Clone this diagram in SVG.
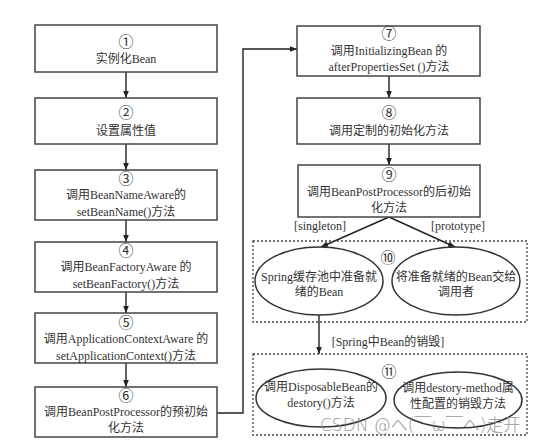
<svg xmlns="http://www.w3.org/2000/svg" width="554" height="448" viewBox="0 0 554 448">
<defs>
<marker id="ah" viewBox="0 0 10 10" refX="10" refY="5" markerWidth="7" markerHeight="7" markerUnits="userSpaceOnUse" orient="auto">
<path d="M0,1 L10,5 L0,9 z" fill="#222"/>
</marker>
<style>
.box{fill:#fff;stroke:#444;stroke-width:1.5}
.ell{fill:#fff;stroke:#333;stroke-width:1.5}
.dot{fill:none;stroke:#444;stroke-width:1.3;stroke-dasharray:2,2}
.ln{fill:none;stroke:#222;stroke-width:1.4}
text{font-family:"Liberation Serif","Noto Sans CJK SC",serif;font-size:12px;fill:#333;text-anchor:middle}
.num{font-size:15px}
.wm{font-family:"DejaVu Sans","Noto Sans CJK SC",sans-serif;font-size:17px;fill:#888;text-anchor:start;font-weight:300;opacity:0.85}
</style>
</defs>
<rect width="554" height="448" fill="#fff"/>
<g id="connectors">
<line class="ln" x1="126" y1="72" x2="126" y2="98" marker-end="url(#ah)"/>
<line class="ln" x1="126" y1="144" x2="126" y2="170" marker-end="url(#ah)"/>
<line class="ln" x1="126" y1="220" x2="126" y2="242" marker-end="url(#ah)"/>
<line class="ln" x1="126" y1="292" x2="126" y2="313" marker-end="url(#ah)"/>
<line class="ln" x1="126" y1="363" x2="126" y2="387" marker-end="url(#ah)"/>
<polyline class="ln" points="217,413 243,413 243,49 297,49" marker-end="url(#ah)"/>
<line class="ln" x1="389" y1="76" x2="389" y2="98" marker-end="url(#ah)"/>
<line class="ln" x1="389" y1="144" x2="389" y2="165" marker-end="url(#ah)"/>
<line class="ln" x1="389" y1="217" x2="321" y2="247" marker-end="url(#ah)"/>
<line class="ln" x1="389" y1="217" x2="455" y2="247" marker-end="url(#ah)"/>
<line class="ln" x1="319" y1="315" x2="319" y2="354" marker-end="url(#ah)"/>
<text x="320" y="230">[singleton]</text>
<text x="458" y="230">[prototype]</text>
<text x="388" y="346">[Spring中Bean的销毁]</text>
</g>
<g id="n1"><rect class="box" x="35" y="25" width="182" height="47"/><text class="num" x="126" y="47">①</text><text x="126" y="63">实例化Bean</text></g>
<g id="n2"><rect class="box" x="35" y="98" width="182" height="46"/><text class="num" x="126" y="118">②</text><text x="126" y="135">设置属性值</text></g>
<g id="n3"><rect class="box" x="35" y="170" width="182" height="50"/><text class="num" x="126" y="184">③</text><text x="126" y="199">调用BeanNameAware的</text><text x="126" y="216">setBeanName()方法</text></g>
<g id="n4"><rect class="box" x="35" y="242" width="182" height="50"/><text class="num" x="126" y="256">④</text><text x="126" y="271">调用BeanFactoryAware 的</text><text x="126" y="288">setBeanFactory()方法</text></g>
<g id="n5"><rect class="box" x="35" y="313" width="182" height="50"/><text class="num" x="126" y="328">⑤</text><text x="126" y="343">调用ApplicationContextAware 的</text><text x="126" y="360">setApplicationContext()方法</text></g>
<g id="n6"><rect class="box" x="35" y="387" width="182" height="50"/><text class="num" x="126" y="401">⑥</text><text x="126" y="416">调用BeanPostProcessor的预初始</text><text x="126" y="432">化方法</text></g>
<g id="n7"><rect class="box" x="297" y="26" width="183" height="50"/><text class="num" x="389" y="39">⑦</text><text x="389" y="55">调用InitializingBean 的</text><text x="389" y="71">afterPropertiesSet ()方法</text></g>
<g id="n8"><rect class="box" x="297" y="98" width="183" height="46"/><text class="num" x="389" y="118">⑧</text><text x="389" y="135">调用定制的初始化方法</text></g>
<g id="n9"><rect class="box" x="298" y="165" width="182" height="52"/><text class="num" x="389" y="180">⑨</text><text x="389" y="196">调用BeanPostProcessor的后初始</text><text x="389" y="212">化方法</text></g>
<g id="n10"><rect class="dot" x="253" y="241" width="274" height="81"/><text class="num" x="388" y="263">⑩</text>
<ellipse class="ell" cx="319" cy="281" rx="64" ry="34"/><text x="319" y="281">Spring缓存池中准备就</text><text x="319" y="296">绪的Bean</text>
<ellipse class="ell" cx="456" cy="281" rx="64" ry="34"/><text x="456" y="281">将准备就绪的Bean交给</text><text x="456" y="296">调用者</text></g>
<g id="n11"><rect class="dot" x="253" y="354" width="274" height="81"/><text class="num" x="389" y="377">⑪</text>
<ellipse class="ell" cx="321" cy="398" rx="65" ry="29"/><text x="321" y="391">调用DisposableBean的</text><text x="321" y="407">destory()方法</text>
<ellipse class="ell" cx="458" cy="400" rx="64" ry="28"/><text x="458" y="392">调用destory-method属</text><text x="458" y="408">性配置的销毁方法</text></g>
<text class="wm" x="320" y="431">CSDN @へ(￣ω￣へ)走开</text>
</svg>
